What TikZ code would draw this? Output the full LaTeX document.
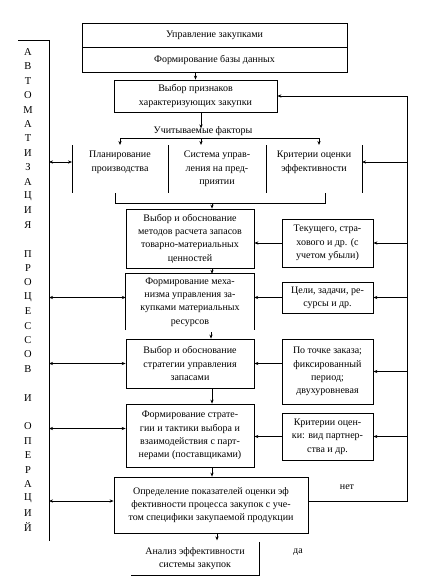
\documentclass[tikz,border=0pt]{standalone}
\usepackage{fontspec}
\setmainfont{Liberation Serif}
\usetikzlibrary{arrows.meta,calc}
\begin{document}
\begin{tikzpicture}[x=1pt,y=-1pt,
  every node/.style={font=\rmfamily\fontsize{10}{13.3}\selectfont, inner sep=0pt, align=center},
  box/.style={draw, line width=0.75pt},
  ln/.style={line width=0.75pt},
  arr/.style={ln,-{Stealth[length=4pt,width=3.2pt]}},
  darr/.style={ln,{Stealth[length=4pt,width=3.2pt]}-{Stealth[length=4pt,width=3.2pt]}},
  letter/.style={font=\rmfamily\fontsize{10.5}{12}\selectfont}
]
\useasboundingbox (0,0) rectangle (437,583);

% side coordinates
\coordinate (fb) at (407,0);
\coordinate (lb) at (49,0);
\coordinate (fbB) at (407,501);

% vertical title column
\draw[ln] (18,40) -- (49,40) -- (49,541);
\foreach \l [count=\i from 0] in {А,В,Т,О,М,А,Т,И,З,А,Ц,И,Я,{},П,Р,О,Ц,Е,С,С,О,В,{},И,{},О,П,Е,Р,А,Ц,И,Й}
  \node[letter] (L\i) at (28,{52+14.4*\i}) {\l};

% top
\node[box, minimum width=265pt, minimum height=24pt] (top1) at (214.5,35) {Управление закупками};
\node[box, minimum width=265pt, minimum height=25pt] (top2) at (214.5,59.5) {Формирование базы данных};

\node[box, minimum width=163pt, minimum height=32pt] (sel) at (195.5,96) {Выбор признаков\\характеризующих закупки};
\draw[arr] (sel.north |- top2.south) -- (sel.north);

% factors
\node (fl) at (203,131) {Учитываемые факторы};
\draw[arr] ($(sel.south)+(5.5,0)$) -- ++(0,16);
\coordinate (fL) at (120,138);
\coordinate (fM) at (201,138);
\coordinate (fR) at (319,138);
\draw[ln] (fL) -- (fR);
\node[anchor=north] (f1) at (120,151) {Планирование\\производства};
\node[anchor=north] (f2) at (217,151) {Система управ-\\ления на пред-\\приятии};
\node[anchor=north] (f3) at (314,151) {Критерии оценки\\эффективности};
\draw[arr] (fL) -- ++(0,7);
\draw[arr] (fM) -- ++(0,7);
\draw[arr] (fR) -- ++(0,7);
\foreach \x in {72,168,266,362} \draw[ln] (\x,145) -- (\x,193);
\coordinate (fleft) at (72,162);
\coordinate (fright) at (362,162);
\draw[darr] (lb |- fleft) -- (fleft);
\draw[arr] (fb |- fright) -- (fright);
\draw[ln] (115,193) -- (115,203) -- (325,203) -- (325,193);

% main chain
\node[box, minimum width=128pt, minimum height=59pt] (A) at (190,238.5) {Выбор и обоснование\\методов расчета запасов\\товарно-материальных\\ценностей};
\draw[arr] (212,203) -- (A.north -| 212,0);

\node[minimum width=128pt, minimum height=56pt] (B) at (190,302) {Формирование меха-\\низма управления за-\\купками материальных\\ресурсов};
\draw[ln] (B.south west) -- (B.north west) -- (B.north east) -- (B.south east);
\draw[arr] ($(A.south)+(22,0)$) -- ($(B.north)+(22,0)$);

\node[box, minimum width=128pt, minimum height=49pt] (C) at (190,363.5) {Выбор и обоснование\\стратегии управления\\запасами};
\draw[arr] ($(B.south)+(21,2)$) -- ($(C.north)+(21,0)$);

\node[box, minimum width=128pt, minimum height=63pt] (D) at (190,435.5) {Формирование страте-\\гии и тактики выбора и\\взаимодействия с парт-\\нерами (поставщиками)};
\draw[arr] ($(C.south)+(22,0)$) -- ($(D.north)+(22,0)$);

\node[box, minimum width=194pt, minimum height=56pt] (E) at (211,505) {\raisebox{5pt}{\begin{tabular}{@{}c@{}}Определение показателей оценки эф\\фективности процесса закупок с уче-\\том специфики закупаемой продукции\end{tabular}}};
\draw[arr] ($(D.south)+(22,0)$) -- ($(E.north)+(1,0)$);

\node[minimum width=128pt, minimum height=33pt] (F) at (195,558.5) {Анализ эффективности\\системы закупок};
\draw[ln] (F.north east) -- (F.south east) -- (F.south west);
\draw[arr] ($(E.south)+(6,0)$) -- ++(0,7);

% side boxes
\node[box, minimum width=91pt, minimum height=48pt] (T1) at (327.5,243) {Текущего, стра-\\хового и др. (с\\учетом убыли)};
\node[box, minimum width=91pt, minimum height=31pt] (T2) at (327.5,297.5) {Цели, задачи, ре-\\сурсы и др.};
\node[box, minimum width=91pt, minimum height=65pt] (T3) at (327.5,371.5) {По точке заказа;\\фиксированный\\период;\\двухуровневая};
\node[box, minimum width=91pt, minimum height=47pt] (T4) at (327.5,436.5) {Критерии оцен-\\ки: вид партнер-\\ства и др.};

\draw[arr] (T1.west) -- (A.east |- T1.west);
\draw[arr] (T2.west) -- (B.east |- T2.west);
\draw[arr] (T3.west |- C.east) -- (C.east);
\draw[arr] (T4.west) -- (D.east |- T4.west);

\draw[arr] (fb |- T1.east) -- (T1.east);
\draw[arr] (fb |- T2.east) -- (T2.east);
\draw[arr] (fb |- T3.east) -- (T3.east);
\draw[arr] (fb |- T4.east) -- (T4.east);

% left arrows
\draw[darr] (lb |- T2.west) -- (B.west |- T2.west);
\draw[darr] (lb |- C.west) -- (C.west);
\draw[darr] ($(lb |- D.west)+(0,-7)$) -- ($(D.west)+(0,-7)$);
\draw[darr] (lb |- fbB) -- (E.west |- fbB);

% feedback
\draw[arr] (E.east |- fbB) -- (fbB) -- (fb |- sel.east) -- (sel.east);
\node (net) at (347,487) {нет};
\node (da) at (298,552) {да};
\end{tikzpicture}
\end{document}
